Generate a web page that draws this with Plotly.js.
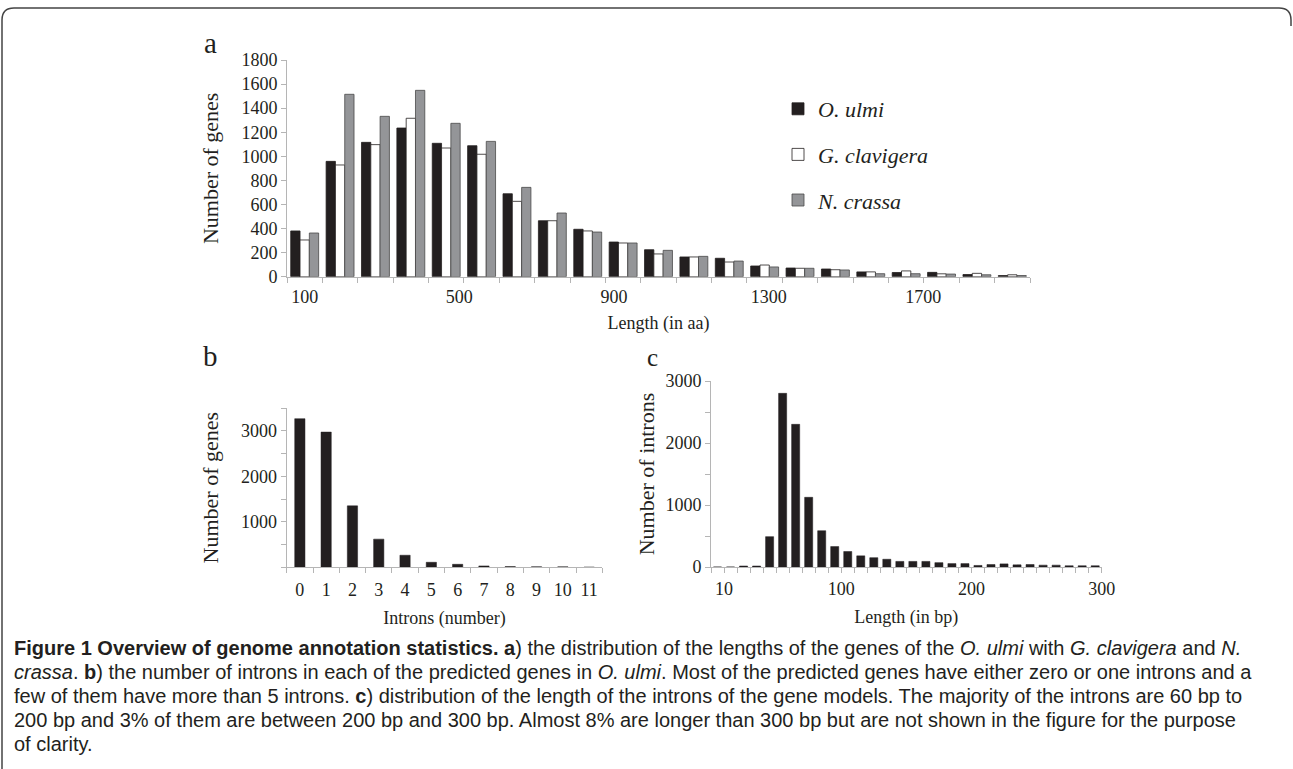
<!DOCTYPE html>
<html>
<head>
<meta charset="utf-8">
<script src="https://cdn.plot.ly/plotly-3.0.1.min.js"></script>
<style>
  html, body { margin: 0; padding: 0; background: #ffffff; }
  #chart { width: 1293px; height: 769px; }
</style>
</head>
<body>
<div id="chart"></div>
<script>
// ---------- Panel a: gene length distribution (number of genes per length bin) ----------
const lengthTickLabels = [100, 500, 900, 1300, 1700];   // x tick labels (aa)
const oUlmi     = [380, 958, 1116, 1235, 1108, 1088, 689, 465, 394, 288, 224, 164, 153, 89, 72, 64, 40, 35, 36, 18, 10];
const gClavigera = [305, 928, 1097, 1316, 1069, 1017, 626, 465, 380, 280, 189, 164, 122, 97, 70, 58, 40, 48, 24, 28, 16];
const nCrassa   = [363, 1515, 1332, 1548, 1274, 1124, 742, 529, 371, 280, 219, 169, 130, 81, 70, 56, 25, 25, 22, 16, 10];
const seriesNames = ['O. ulmi', 'G. clavigera', 'N. crassa'];

// ---------- Panel b: number of introns per gene (O. ulmi) ----------
const intronCounts = [0, 1, 2, 3, 4, 5, 6, 7, 8, 9, 10, 11];
const genesByIntronCount = [3265, 2971, 1350, 619, 265, 110, 66, 30, 15, 12, 10, 3];

// ---------- Panel c: intron length distribution (bins of 10 bp, labelled by upper edge) ----------
const intronLengthBins = [10, 20, 30, 40, 50, 60, 70, 80, 90, 100, 110, 120, 130, 140, 150,
                          160, 170, 180, 190, 200, 210, 220, 230, 240, 250, 260, 270, 280, 290, 300];
const intronsByLength = [0, 0, 16, 16, 489, 2801, 2301, 1124, 585, 330, 250, 180, 150, 125, 90,
                         90, 90, 70, 55, 55, 25, 40, 50, 35, 40, 30, 30, 20, 20, 20];
const intronTickLabels = [10, 100, 200, 300];

// ---------- geometry helpers (page pixels -> paper fractions) ----------
const W = 1293, H = 769;
const px = x => x / W;
const py = y => 1 - y / H;

const ink = '#231f20';
const axisGray = '#b5b5b5';
const serif = 'Liberation Serif, Times New Roman, serif';
const aaPerSlot = 91.5;      // label scale of panel a (aa per category slot)
const binBp = 10;            // panel c bin width in bp

const idx = arr => arr.map((_, i) => i);

const barLine = {color: ink, width: 0.8};
const slotW = 0.263;
const traces = [
  {type: 'bar', x: idx(oUlmi), y: oUlmi, name: '<i>' + seriesNames[0] + '</i>', legendgroup: 'g1',
   marker: {color: ink, line: barLine}, width: slotW, offset: -1.5 * slotW, xaxis: 'x', yaxis: 'y'},
  {type: 'bar', x: idx(gClavigera), y: gClavigera, name: '<i>' + seriesNames[1] + '</i>', legendgroup: 'g2',
   marker: {color: '#ffffff', line: barLine}, width: slotW, offset: -0.5 * slotW, xaxis: 'x', yaxis: 'y'},
  {type: 'bar', x: idx(nCrassa), y: nCrassa, name: '<i>' + seriesNames[2] + '</i>', legendgroup: 'g3',
   marker: {color: '#949598', line: {color: '#4a4a4a', width: 0.8}}, width: slotW, offset: 0.5 * slotW, xaxis: 'x', yaxis: 'y'},
  {type: 'bar', x: intronCounts, y: genesByIntronCount, showlegend: false,
   marker: {color: ink, line: {color: ink, width: 0.5}}, width: 0.39, xaxis: 'x2', yaxis: 'y2'},
  {type: 'bar', x: intronLengthBins.map(v => v - binBp / 2), y: intronsByLength, showlegend: false,
   marker: {color: ink, line: {color: ink, width: 0.5}}, width: binBp * 0.62, xaxis: 'x3', yaxis: 'y3'}
];

const tickFont = {family: serif, size: 18, color: ink};
const baseAxis = {
  showline: true, linecolor: axisGray, linewidth: 1, showgrid: false, zeroline: false,
  tickfont: tickFont, tickcolor: axisGray, ticklen: 5, fixedrange: true
};

const layout = {
  width: W, height: H,
  margin: {l: 0, r: 0, t: 0, b: 0},
  paper_bgcolor: '#ffffff', plot_bgcolor: 'rgba(0,0,0,0)',
  barmode: 'overlay',
  font: {family: serif, color: ink},
  showlegend: true,
  legend: {
    x: px(778), y: py(88), xanchor: 'left', yanchor: 'top',
    font: {family: serif, size: 22, color: ink},
    bgcolor: 'rgba(0,0,0,0)', tracegroupgap: 14, traceorder: 'grouped'
  },
  xaxis: Object.assign({}, baseAxis, {
    domain: [px(287), px(1030)], anchor: 'y', range: [-0.5, 20.5],
    tickmode: 'array',
    tickvals: lengthTickLabels.map(v => (v - lengthTickLabels[0]) / aaPerSlot),
    ticktext: lengthTickLabels.map(String),
    ticks: '', ticklabelstandoff: 4,
    minor: {tick0: -0.5, dtick: 1, ticks: 'outside', ticklen: 5, tickcolor: axisGray, showgrid: false},
    title: {text: 'Length (in aa)', font: {family: serif, size: 18, color: ink}, standoff: 10}
  }),
  yaxis: Object.assign({}, baseAxis, {
    domain: [py(276.7), py(60)], anchor: 'x', range: [0, 1800], dtick: 200, ticks: 'outside',
    title: {text: 'Number of genes', font: {family: serif, size: 22, color: ink}, standoff: 16}
  }),
  xaxis2: Object.assign({}, baseAxis, {
    domain: [px(286.7), px(602.3)], anchor: 'y2', range: [-0.5, 11.5],
    tickmode: 'array', tickvals: intronCounts, ticktext: intronCounts.map(String),
    ticks: '', ticklabelstandoff: 6,
    minor: {tick0: -0.5, dtick: 1, ticks: 'outside', ticklen: 5, tickcolor: axisGray, showgrid: false},
    title: {text: 'Introns (number)', font: {family: serif, size: 18, color: ink}, standoff: 12}
  }),
  yaxis2: Object.assign({}, baseAxis, {
    domain: [py(567.3), py(408)], anchor: 'x2', range: [0, 3500],
    tickmode: 'array', tickvals: [1000, 2000, 3000], ticks: 'outside',
    minor: {tick0: 0, dtick: 500, ticks: 'outside', ticklen: 5, tickcolor: axisGray, showgrid: false},
    title: {text: 'Number of genes', font: {family: serif, size: 22, color: ink}, standoff: 16}
  }),
  xaxis3: Object.assign({}, baseAxis, {
    domain: [px(711), px(1101.7)], anchor: 'y3', range: [0, 300],
    tickmode: 'array', tickvals: intronTickLabels, ticktext: intronTickLabels.map(String),
    ticks: 'outside',
    minor: {tick0: 0, dtick: binBp, ticks: 'outside', ticklen: 5, tickcolor: axisGray, showgrid: false},
    title: {text: 'Length (in bp)', font: {family: serif, size: 18, color: ink}, standoff: 12}
  }),
  yaxis3: Object.assign({}, baseAxis, {
    domain: [py(567), py(381)], anchor: 'x3', range: [0, 3000],
    tickmode: 'array', tickvals: [0, 1000, 2000, 3000], ticks: 'outside',
    minor: {tick0: 0, dtick: 500, ticks: 'outside', ticklen: 5, tickcolor: axisGray, showgrid: false},
    title: {text: 'Number of introns', font: {family: serif, size: 22, color: ink}, standoff: 4}
  }),
  annotations: [
    {text: 'a', xref: 'paper', yref: 'paper', x: px(210), y: py(43), xanchor: 'center', yanchor: 'middle',
     showarrow: false, font: {family: serif, size: 29, color: ink}},
    {text: 'b', xref: 'paper', yref: 'paper', x: px(210), y: py(356), xanchor: 'center', yanchor: 'middle',
     showarrow: false, font: {family: serif, size: 29, color: ink}},
    {text: 'c', xref: 'paper', yref: 'paper', x: px(653), y: py(357), xanchor: 'center', yanchor: 'middle',
     showarrow: false, font: {family: serif, size: 25, color: ink}}
  ],
  shapes: [
    {type: 'path', xref: 'paper', yref: 'paper',
     path: 'M ' + px(2) + ',' + py(769) + ' L ' + px(2) + ',' + py(20) +
           ' Q ' + px(2) + ',' + py(8) + ' ' + px(14) + ',' + py(8) +
           ' L ' + px(1279) + ',' + py(8) +
           ' Q ' + px(1291) + ',' + py(8) + ' ' + px(1291) + ',' + py(20) +
           ' L ' + px(1291) + ',' + py(26),
     line: {color: '#444444', width: 1.5}}
  ]
};

// caption lines
const capFont = 'Liberation Sans Narrow, Arial Narrow, sans-serif';
const captionLines = [
  '<b>Figure 1 Overview of genome annotation statistics. a</b>) the distribution of the lengths of the genes of the <i>O. ulmi</i> with <i>G. clavigera</i> and <i>N.</i>',
  '<i>crassa</i>. <b>b</b>) the number of introns in each of the predicted genes in <i>O. ulmi</i>. Most of the predicted genes have either zero or one introns and a',
  'few of them have more than 5 introns. <b>c</b>) distribution of the length of the introns of the gene models. The majority of the introns are 60 bp to',
  '200 bp and 3% of them are between 200 bp and 300 bp. Almost 8% are longer than 300 bp but are not shown in the figure for the purpose',
  'of clarity.'
];
captionLines.forEach((t, i) => {
  layout.annotations.push({
    text: t, xref: 'paper', yref: 'paper', x: px(12), y: py(648 + 24 * i),
    xanchor: 'left', yanchor: 'middle', align: 'left', showarrow: false,
    font: {family: capFont, size: 20, color: ink}
  });
});

Plotly.newPlot('chart', traces, layout, {displayModeBar: false, staticPlot: true});
</script>
</body>
</html>
